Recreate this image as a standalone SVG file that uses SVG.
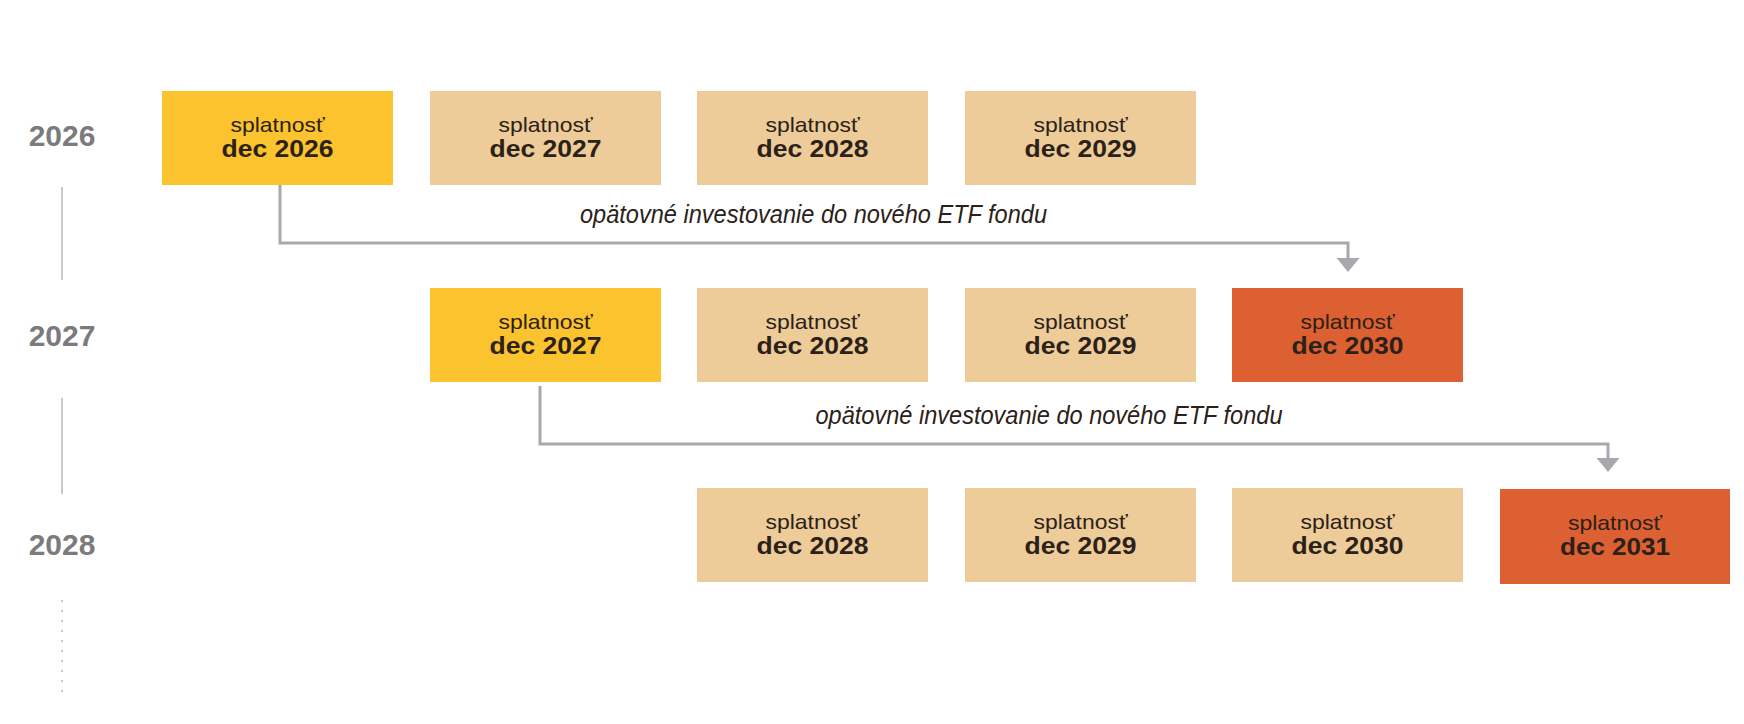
<svg xmlns="http://www.w3.org/2000/svg" width="1744" height="724" viewBox="0 0 1744 724">
  <style>
    .box-y { fill: #FBC32D; }
    .box-t { fill: #EDCC99; }
    .box-o { fill: #DC6031; }
    .lbl1 { font-family: "Liberation Sans", Arial, sans-serif; font-size: 21px; fill: #2B2118; text-anchor: middle; }
    .lbl2 { font-family: "Liberation Sans", Arial, sans-serif; font-size: 24px; font-weight: bold; fill: #2B2118; text-anchor: middle; }
    .year { font-family: "Liberation Sans", Arial, sans-serif; font-size: 30px; font-weight: bold; fill: #7B7B7D; text-anchor: middle; }
    .conn { fill: none; stroke: #A7A9AC; stroke-width: 3; }
    .note { font-family: "Liberation Sans", Arial, sans-serif; font-size: 25px; font-style: italic; fill: #2B2118; text-anchor: middle; }
    .tl { stroke: #C9C9CD; stroke-width: 2; }
    .tld { stroke: #C9C9CD; stroke-width: 2; stroke-dasharray: 2 8; }
  </style>
  <defs>
    <marker id="arr" viewBox="0 0 14 23" refX="0" refY="11.5" markerWidth="14" markerHeight="23" markerUnits="userSpaceOnUse" orient="auto">
      <path d="M0,0 L14,11.5 L0,23 Z" fill="#A7A9AC"/>
    </marker>
  </defs>
  <rect width="1744" height="724" fill="#FFFFFF"/>

  <g id="timeline">
    <line class="tl" x1="62" y1="187" x2="62" y2="280"/>
    <line class="tl" x1="62" y1="398" x2="62" y2="494"/>
    <line class="tld" x1="62" y1="600" x2="62" y2="700"/>
    <text id="year-2026" class="year" x="62" y="146">2026</text>
    <text id="year-2027" class="year" x="62" y="346">2027</text>
    <text id="year-2028" class="year" x="62" y="555">2028</text>
  </g>

  <g id="connectors">
    <path class="conn" d="M280,185 V243 H1348 V258" marker-end="url(#arr)"/>
    <path class="conn" d="M540,386 V444 H1608 V458" marker-end="url(#arr)"/>
    <text class="note" x="813.5" y="223" textLength="467" lengthAdjust="spacingAndGlyphs">opätovné investovanie do nového ETF fondu</text>
    <text class="note" x="1049" y="424" textLength="467" lengthAdjust="spacingAndGlyphs">opätovné investovanie do nového ETF fondu</text>
  </g>

  <!-- Row 2026 -->
  <g id="r1-2026"><rect class="box-y" x="162" y="91" width="231" height="94"/><text class="lbl1" x="277.5" y="132" textLength="94" lengthAdjust="spacingAndGlyphs">splatnosť</text><text class="lbl2" x="277.5" y="156.5" textLength="112" lengthAdjust="spacingAndGlyphs">dec 2026</text></g>
  <g id="r1-2027"><rect class="box-t" x="430" y="91" width="231" height="94"/><text class="lbl1" x="545.5" y="132" textLength="94" lengthAdjust="spacingAndGlyphs">splatnosť</text><text class="lbl2" x="545.5" y="156.5" textLength="112" lengthAdjust="spacingAndGlyphs">dec 2027</text></g>
  <g id="r1-2028"><rect class="box-t" x="697" y="91" width="231" height="94"/><text class="lbl1" x="812.5" y="132" textLength="94" lengthAdjust="spacingAndGlyphs">splatnosť</text><text class="lbl2" x="812.5" y="156.5" textLength="112" lengthAdjust="spacingAndGlyphs">dec 2028</text></g>
  <g id="r1-2029"><rect class="box-t" x="965" y="91" width="231" height="94"/><text class="lbl1" x="1080.5" y="132" textLength="94" lengthAdjust="spacingAndGlyphs">splatnosť</text><text class="lbl2" x="1080.5" y="156.5" textLength="112" lengthAdjust="spacingAndGlyphs">dec 2029</text></g>

  <!-- Row 2027 -->
  <g id="r2-2027"><rect class="box-y" x="430" y="288" width="231" height="94"/><text class="lbl1" x="545.5" y="329" textLength="94" lengthAdjust="spacingAndGlyphs">splatnosť</text><text class="lbl2" x="545.5" y="353.5" textLength="112" lengthAdjust="spacingAndGlyphs">dec 2027</text></g>
  <g id="r2-2028"><rect class="box-t" x="697" y="288" width="231" height="94"/><text class="lbl1" x="812.5" y="329" textLength="94" lengthAdjust="spacingAndGlyphs">splatnosť</text><text class="lbl2" x="812.5" y="353.5" textLength="112" lengthAdjust="spacingAndGlyphs">dec 2028</text></g>
  <g id="r2-2029"><rect class="box-t" x="965" y="288" width="231" height="94"/><text class="lbl1" x="1080.5" y="329" textLength="94" lengthAdjust="spacingAndGlyphs">splatnosť</text><text class="lbl2" x="1080.5" y="353.5" textLength="112" lengthAdjust="spacingAndGlyphs">dec 2029</text></g>
  <g id="r2-2030"><rect class="box-o" x="1232" y="288" width="231" height="94"/><text class="lbl1" x="1347.5" y="329" textLength="94" lengthAdjust="spacingAndGlyphs">splatnosť</text><text class="lbl2" x="1347.5" y="353.5" textLength="112" lengthAdjust="spacingAndGlyphs">dec 2030</text></g>

  <!-- Row 2028 -->
  <g id="r3-2028"><rect class="box-t" x="697" y="488" width="231" height="94"/><text class="lbl1" x="812.5" y="529" textLength="94" lengthAdjust="spacingAndGlyphs">splatnosť</text><text class="lbl2" x="812.5" y="553.5" textLength="112" lengthAdjust="spacingAndGlyphs">dec 2028</text></g>
  <g id="r3-2029"><rect class="box-t" x="965" y="488" width="231" height="94"/><text class="lbl1" x="1080.5" y="529" textLength="94" lengthAdjust="spacingAndGlyphs">splatnosť</text><text class="lbl2" x="1080.5" y="553.5" textLength="112" lengthAdjust="spacingAndGlyphs">dec 2029</text></g>
  <g id="r3-2030"><rect class="box-t" x="1232" y="488" width="231" height="94"/><text class="lbl1" x="1347.5" y="529" textLength="94" lengthAdjust="spacingAndGlyphs">splatnosť</text><text class="lbl2" x="1347.5" y="553.5" textLength="112" lengthAdjust="spacingAndGlyphs">dec 2030</text></g>
  <g id="r3-2031"><rect class="box-o" x="1500" y="489" width="230" height="95"/><text class="lbl1" x="1615" y="530" textLength="94" lengthAdjust="spacingAndGlyphs">splatnosť</text><text class="lbl2" x="1615" y="554.5" textLength="110" lengthAdjust="spacingAndGlyphs">dec 2031</text></g>
</svg>
